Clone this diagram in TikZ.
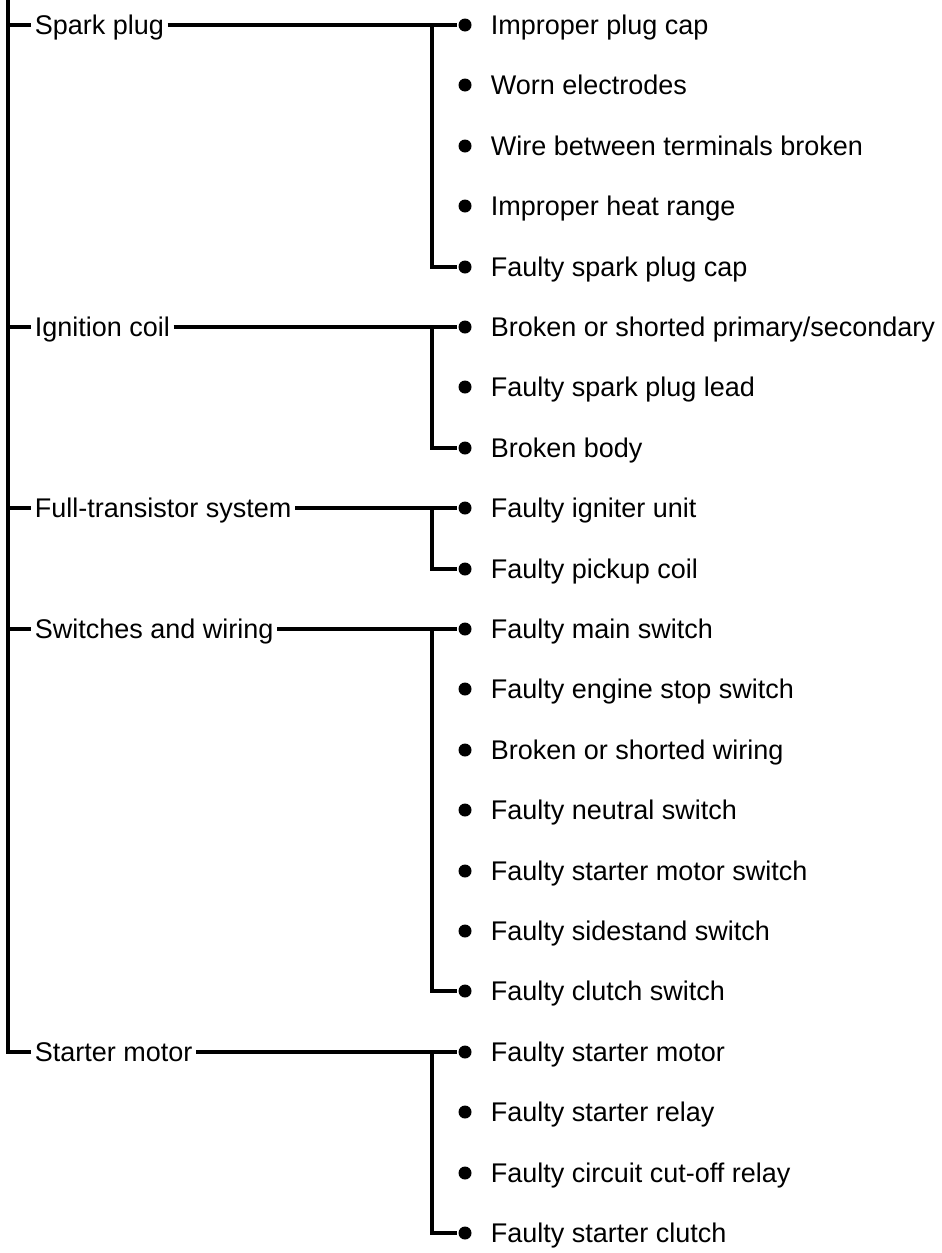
\documentclass[tikz,border=0pt]{standalone}
\usepackage{fontspec}
\setmainfont{Liberation Sans}

\tikzset{
  cause/.style = {anchor=west, inner xsep=1pt, inner ysep=0pt,
    text height=9.7pt, text depth=0pt, font=\fontsize{13.5}{16}\selectfont},
  fault/.style = {cause, inner xsep=0pt},
  dot/.style = {circle, fill, inner sep=0pt, minimum size=6.5pt},
}

\begin{document}
\begin{tikzpicture}[x=0.5pt, y=-0.5pt, line width=1.8pt]
\useasboundingbox (0,0) rectangle (942,1253);
\coordinate (top) at (8,0);
\begin{scope}[every node/.style = {cause}]
\node (SP) at (31, 25) {Spark plug};
\node (IC) at (31, 327) {Ignition coil};
\node (FT) at (31, 508) {Full-transistor system};
\node (SW) at (31, 629) {Switches and wiring};
\node (SM) at (31, 1052) {Starter motor};
\end{scope}
\begin{scope}[every node/.style = {dot}]
\node (SP1) at (465, 25) {};
\node (SP2) at (465, 85) {};
\node (SP3) at (465, 146) {};
\node (SP4) at (465, 206) {};
\node (SP5) at (465, 267) {};
\node (IC1) at (465, 327) {};
\node (IC2) at (465, 387) {};
\node (IC3) at (465, 448) {};
\node (FT1) at (465, 508) {};
\node (FT2) at (465, 569) {};
\node (SW1) at (465, 629) {};
\node (SW2) at (465, 689) {};
\node (SW3) at (465, 750) {};
\node (SW4) at (465, 810) {};
\node (SW5) at (465, 871) {};
\node (SW6) at (465, 931) {};
\node (SW7) at (465, 991) {};
\node (SM1) at (465, 1052) {};
\node (SM2) at (465, 1112) {};
\node (SM3) at (465, 1173) {};
\node (SM4) at (465, 1233) {};
\end{scope}
\begin{scope}[every node/.style = {fault}]
\node (SP1t) at (489, 25) {Improper plug cap};
\node (SP2t) at (489, 85) {Worn electrodes};
\node (SP3t) at (489, 146) {Wire between terminals broken};
\node (SP4t) at (489, 206) {Improper heat range};
\node (SP5t) at (489, 267) {Faulty spark plug cap};
\node (IC1t) at (489, 327) {Broken or shorted primary/secondary};
\node (IC2t) at (489, 387) {Faulty spark plug lead};
\node (IC3t) at (489, 448) {Broken body};
\node (FT1t) at (489, 508) {Faulty igniter unit};
\node (FT2t) at (489, 569) {Faulty pickup coil};
\node (SW1t) at (489, 629) {Faulty main switch};
\node (SW2t) at (489, 689) {Faulty engine stop switch};
\node (SW3t) at (489, 750) {Broken or shorted wiring};
\node (SW4t) at (489, 810) {Faulty neutral switch};
\node (SW5t) at (489, 871) {Faulty starter motor switch};
\node (SW6t) at (489, 931) {Faulty sidestand switch};
\node (SW7t) at (489, 991) {Faulty clutch switch};
\node (SM1t) at (489, 1052) {Faulty starter motor};
\node (SM2t) at (489, 1112) {Faulty starter relay};
\node (SM3t) at (489, 1173) {Faulty circuit cut-off relay};
\node (SM4t) at (489, 1233) {Faulty starter clutch};
\end{scope}
% trunk and ticks
\draw (top) |- (SM.west);
\draw (top |- SP.west) -- (SP.west);
\draw (top |- IC.west) -- (IC.west);
\draw (top |- FT.west) -- (FT.west);
\draw (top |- SW.west) -- (SW.west);
% branches
\draw (SP.east) -- (SP1);
\draw (SP1) ++(-33,0) |- (SP5);
\draw (IC.east) -- (IC1);
\draw (IC1) ++(-33,0) |- (IC3);
\draw (FT.east) -- (FT1);
\draw (FT1) ++(-33,0) |- (FT2);
\draw (SW.east) -- (SW1);
\draw (SW1) ++(-33,0) |- (SW7);
\draw (SM.east) -- (SM1);
\draw (SM1) ++(-33,0) |- (SM4);
\end{tikzpicture}
\end{document}
